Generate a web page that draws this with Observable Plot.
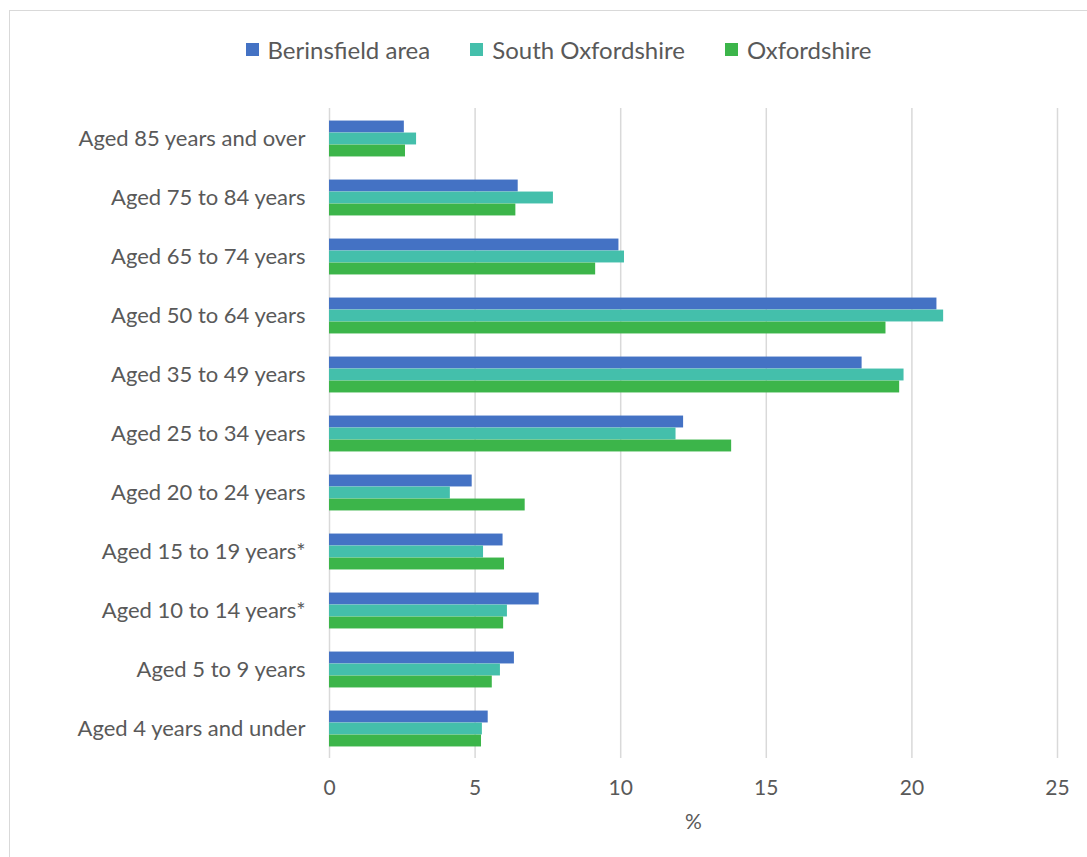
<!DOCTYPE html>
<html>
<head>
<meta charset="utf-8">
<script src="https://cdn.jsdelivr.net/npm/d3@7"></script>
<script src="https://cdn.jsdelivr.net/npm/@observablehq/plot@0.6"></script>
<style>
  html, body { margin: 0; padding: 0; background: #fff; }
  #wrap { position: relative; width: 1087px; height: 857px; overflow: hidden; font-family: Lato, "Open Sans", sans-serif; }
  #frame { position: absolute; left: 9px; top: 10px; width: 1200px; height: 1000px; border: 1.5px solid #d9d9d9; box-sizing: border-box; }
  #legend { position: absolute; left: 0; top: 33px; width: 1087px; height: 32px; display: flex; justify-content: center; align-items: center; gap: 40px; font-size: 24px; color: #595959; padding-left: 30px; box-sizing: border-box; }
  .item { display: flex; align-items: center; gap: 9px; }
  .sw { width: 13px; height: 13px; display: inline-block; }
  #chart { position: absolute; left: 0; top: 80px; }
</style>
</head>
<body>
<div id="wrap">
  <div id="frame"></div>
  <div id="legend"></div>
  <div id="chart"></div>
</div>
<script>
const categories = [
  "Aged 85 years and over",
  "Aged 75 to 84 years",
  "Aged 65 to 74 years",
  "Aged 50 to 64 years",
  "Aged 35 to 49 years",
  "Aged 25 to 34 years",
  "Aged 20 to 24 years",
  "Aged 15 to 19 years*",
  "Aged 10 to 14 years*",
  "Aged 5 to 9 years",
  "Aged 4 years and under"
];
const seriesNames = ["Berinsfield area", "South Oxfordshire", "Oxfordshire"];
const seriesColors = ["#4472C4", "#44BFAB", "#3CB54A"];
const berinsfield = [2.57, 6.48, 9.94, 20.86, 18.29, 12.16, 4.90, 5.96, 7.20, 6.35, 5.45];
const southOxon   = [2.99, 7.69, 10.13, 21.09, 19.73, 11.90, 4.15, 5.29, 6.11, 5.87, 5.25];
const oxfordshire = [2.61, 6.40, 9.14, 19.11, 19.58, 13.81, 6.72, 6.01, 5.98, 5.59, 5.22];
const xTicks = [0, 5, 10, 15, 20, 25];

const seriesValues = [berinsfield, southOxon, oxfordshire];

// legend
const legend = document.getElementById("legend");
seriesNames.forEach((name, i) => {
  const it = document.createElement("div");
  it.className = "item";
  it.innerHTML = `<span class="sw" style="background:${seriesColors[i]}"></span><span>${name}</span>`;
  legend.appendChild(it);
});

const width = 1087, height = 777;
const marginTop = 28, marginBottom = 99, marginLeft = 329, marginRight = 30;
const step = (height - marginTop - marginBottom) / categories.length;
const barH = 12;
const groupTop = (step - 3 * barH) / 2;

const marks = [
  Plot.gridX(xTicks, {stroke: "#d9d9d9", strokeOpacity: 1, strokeWidth: 1.5})
];
seriesValues.forEach((vals, i) => {
  const data = categories.map((c, j) => ({category: c, value: vals[j]}));
  marks.push(Plot.barX(data, {
    x: "value", y: "category", fill: seriesColors[i],
    insetTop: groupTop + i * barH,
    insetBottom: step - groupTop - (i + 1) * barH
  }));
});
marks.push(Plot.axisX(xTicks, {tickSize: 0, tickPadding: 22, fontSize: 21, fill: "#595959", label: null}));
marks.push(Plot.text(["%"], {frameAnchor: "bottom", dy: 70, fontSize: 21, fill: "#595959"}));
marks.push(Plot.axisY({tickSize: 0, tickPadding: 24, fontSize: 22, fill: "#595959", label: null}));

const chart = Plot.plot({
  width, height, marginTop, marginBottom, marginLeft, marginRight,
  style: {fontFamily: "Lato, 'Open Sans', sans-serif", background: "transparent", overflow: "visible"},
  x: {domain: [0, 25]},
  y: {domain: categories, padding: 0},
  marks
});
document.getElementById("chart").appendChild(chart);
</script>
</body>
</html>
